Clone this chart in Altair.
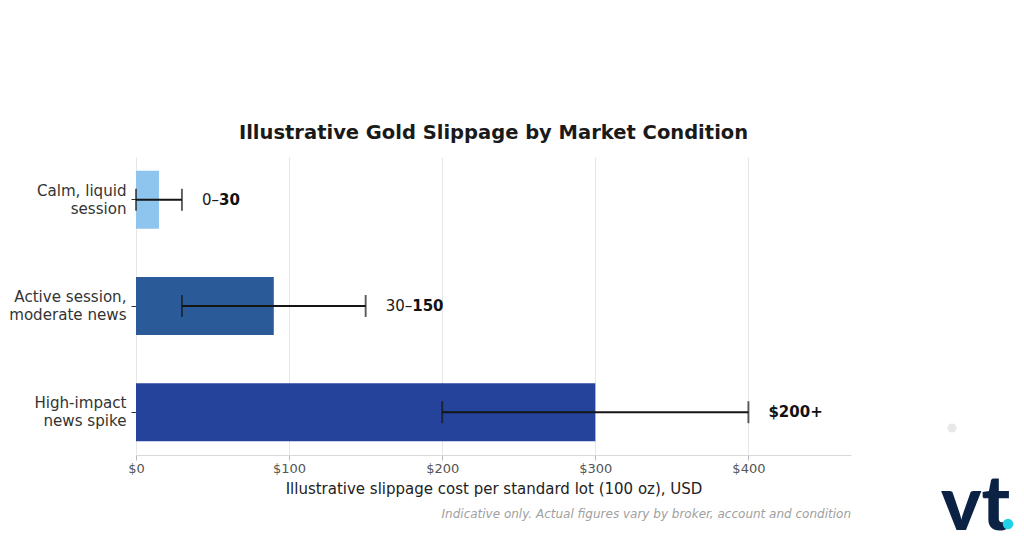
import altair as alt
import pandas as pd

# ---- data ----
categories = ["Calm, liquid|session", "Active session,|moderate news", "High-impact|news spike"]
bar_values = [15, 90, 300]
range_low = [0, 30, 200]
range_high = [30, 150, 400]
label_prefix = ["0\u2013", "30\u2013", ""]
label_bold = ["30", "150", "$200+"]
bar_colors = ["#8cc4ee", "#275797", "#213f99"]
x_ticks = [0, 100, 200, 300, 400]

df = pd.DataFrame({
    "cat": categories,
    "value": bar_values,
    "lo": range_low,
    "hi": range_high,
    "prefix": label_prefix,
    "bold": label_bold,
})

FONT = "DejaVu Sans"
W, H = 715, 298
XMAX = 467

xscale = alt.Scale(domain=[0, XMAX], nice=False, zero=True)
yscale = alt.Scale(domain=categories, paddingInner=0.454, paddingOuter=0.13)

x_enc = alt.X(
    "value:Q",
    scale=xscale,
    axis=alt.Axis(
        values=x_ticks,
        labelExpr="'$' + datum.value",
        labelFlush=False,
        title="Illustrative slippage cost per standard lot (100 oz), USD",
        grid=True,
        gridColor="#e6e6e6",
        domainColor="#d9d9d9",
        tickColor="#bbbbbb",
        tickSize=5,
        labelFont=FONT,
        labelFontSize=13,
        labelColor="#555555",
        labelPadding=2,
        titleFont=FONT,
        titleFontSize=15,
        titleFontWeight="normal",
        titleColor="#222222",
        titlePadding=6,
    ),
)
y_enc = alt.Y(
    "cat:N",
    sort=categories,
    scale=yscale,
    axis=alt.Axis(
        title=None,
        domain=False,
        grid=False,
        tickColor="#333333",
        tickSize=5,
        labelExpr="split(datum.label, '|')",
        labelFont=FONT,
        labelFontSize=15.1,
        labelColor="#333333",
        labelLineHeight=18,
        labelOffset=-9,
        labelPadding=5,
        labelLimit=200,
    ),
)

base = alt.Chart(df)

bars = base.mark_bar(opacity=0.98).encode(
    x=x_enc,
    y=y_enc,
    color=alt.Color("cat:N", scale=alt.Scale(domain=categories, range=bar_colors), legend=None),
)

ERR_COLOR = "#151515"
err_line = base.mark_rule(color=ERR_COLOR, strokeWidth=1.9).encode(
    x="lo:Q", x2="hi:Q", y=alt.Y("cat:N", sort=categories)
)
cap_lo = base.mark_tick(color=ERR_COLOR, thickness=1.9, size=22).encode(
    x="lo:Q", y=alt.Y("cat:N", sort=categories)
)
cap_hi = base.mark_tick(color=ERR_COLOR, thickness=1.9, size=22).encode(
    x="hi:Q", y=alt.Y("cat:N", sort=categories)
)

LABEL_DX = 20
LABEL_SIZE = 15
prefix_text = base.mark_text(
    align="left", baseline="middle", dx=LABEL_DX, font=FONT, fontSize=LABEL_SIZE, color="#1a1a1a"
).encode(x="hi:Q", y=alt.Y("cat:N", sort=categories), text="prefix:N")

# widths of DejaVu Sans glyphs (em) to place the bold part after the plain prefix
glyph_w = {"0": 0.636, "1": 0.636, "2": 0.636, "3": 0.636, "4": 0.636, "5": 0.636,
           "6": 0.636, "7": 0.636, "8": 0.636, "9": 0.636, "\u2013": 0.5}
bold_layers = []
for c, p in zip(categories, label_prefix):
    pw = sum(glyph_w.get(ch, 0.6) for ch in p) * LABEL_SIZE
    bold_layers.append(
        base.transform_filter(alt.datum.cat == c).mark_text(
            align="left", baseline="middle", dx=LABEL_DX + pw, font=FONT,
            fontSize=LABEL_SIZE, fontWeight="bold", color="#111111"
        ).encode(x="hi:Q", y=alt.Y("cat:N", sort=categories), text="bold:N")
    )

one = alt.Data(values=[{"t": 1}])
footnote = alt.Chart(one).mark_text(
    align="right", baseline="middle", font=FONT, fontSize=12, fontStyle="italic", color="#a0a0a0"
).encode(
    x=alt.value(W), y=alt.value(357),
    text=alt.value("Indicative only. Actual figures vary by broker, account and condition"),
)

logo = alt.Chart(one).mark_text(
    align="left", baseline="alphabetic", font="Lato", fontSize=76, fontWeight=900, color="#0c2244"
).encode(x=alt.value(805), y=alt.value(373), text=alt.value("vt"))
logo_dot = alt.Chart(one).mark_point(filled=True, color="#1fd2e6", opacity=1, size=110).encode(
    x=alt.value(872), y=alt.value(367)
)
gray_dot = alt.Chart(one).mark_point(filled=True, color="#e8e8e8", opacity=1, size=80).encode(
    x=alt.value(816), y=alt.value(271)
)

chart = alt.layer(
    bars, err_line, cap_lo, cap_hi, prefix_text, *bold_layers, footnote, gray_dot, logo, logo_dot
).properties(
    width=W,
    height=H,
    title=alt.TitleParams(
        "Illustrative Gold Slippage by Market Condition",
        font=FONT, fontSize=19.5, fontWeight="bold", color="#1a1a1a", anchor="middle", offset=14,
    ),
    padding={"left": 128, "top": 149, "right": 165, "bottom": 90},
    autosize=alt.AutoSizeParams(type="none"),
    view=alt.ViewBackground(stroke="transparent", strokeWidth=0),
).configure_view(stroke="transparent", strokeWidth=0).configure(background="white")

chart.save("out.html", embed_options={"renderer": "svg", "actions": False})
